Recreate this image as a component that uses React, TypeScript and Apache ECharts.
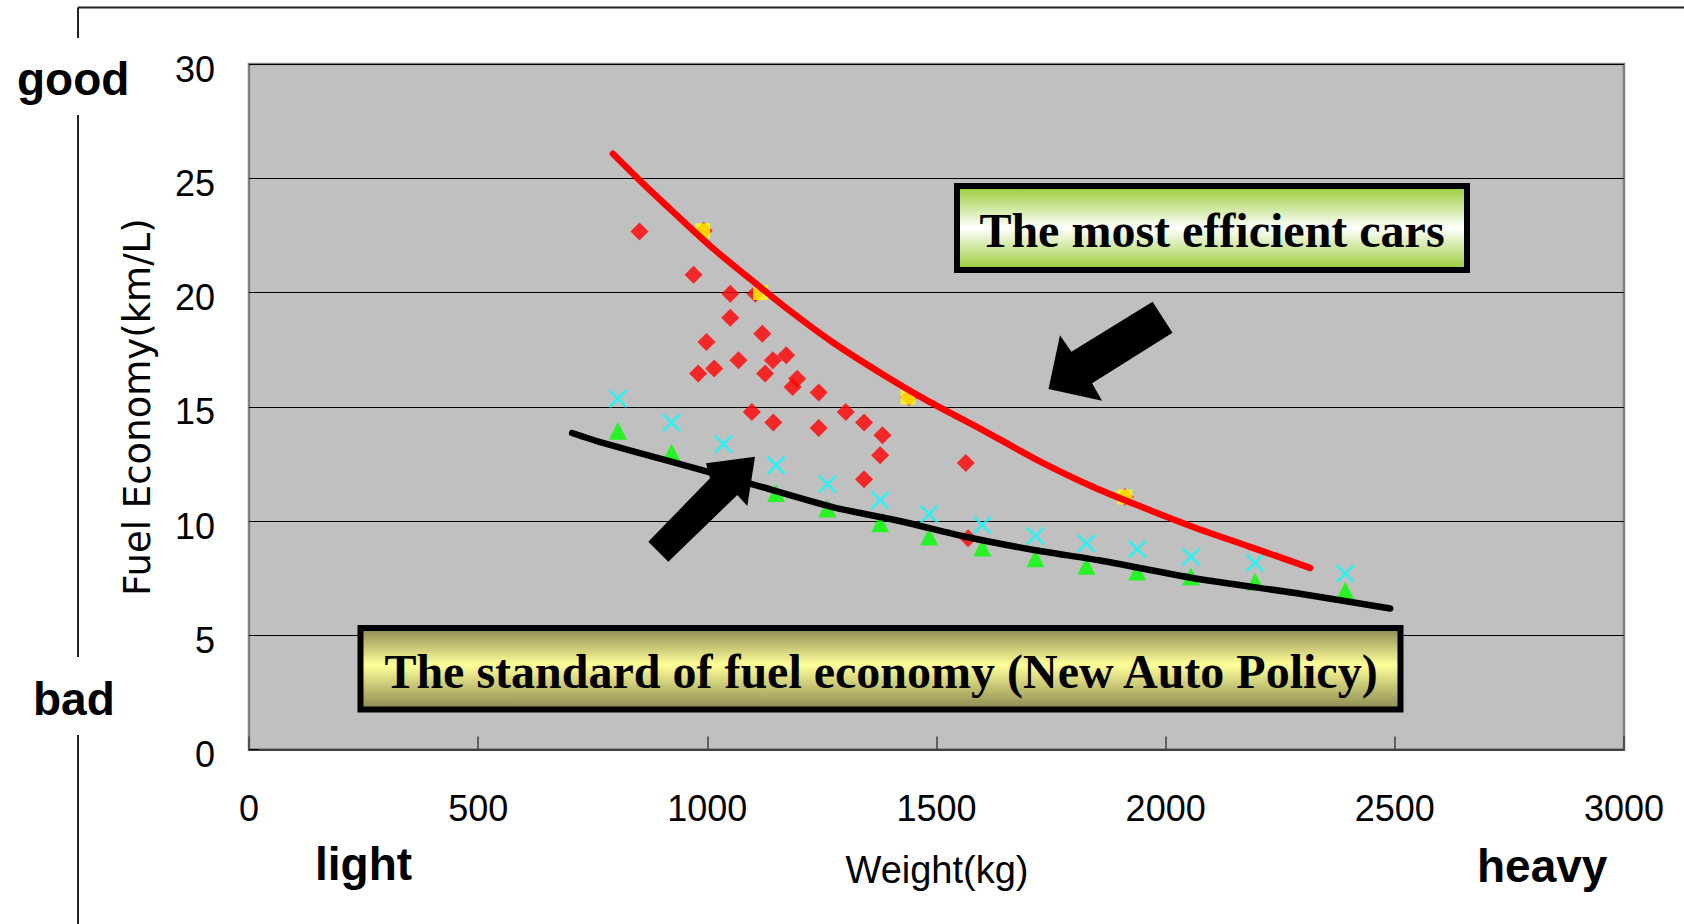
import React, { useEffect, useRef } from "react";
import * as echarts from "echarts";

// ---- data (weight kg, fuel economy km/L) ----
const redCurveW = [794, 853, 926, 1013, 1093, 1180, 1275, 1384, 1479, 1602, 1718, 1842, 1966, 2060, 2184, 2315];
const redCurveV = [26.07, 24.9, 23.52, 21.92, 20.6, 19.2, 17.8, 16.4, 15.28, 13.97, 12.69, 11.49, 10.47, 9.74, 8.87, 7.95];

const blackLineW = [705, 766, 911, 1093, 1275, 1420, 1566, 1716, 1857, 2075, 2293, 2490];
const blackLineV = [13.85, 13.45, 12.65, 11.64, 10.6, 10.0, 9.3, 8.72, 8.27, 7.45, 6.82, 6.17];

const carW = [852, 992, 970, 1050, 1105, 1050, 1120, 998, 1068, 1143, 1172, 1015, 980, 1126, 1196, 1186, 1243, 1097, 1144, 1243, 1302, 1342, 1382, 1377, 1342, 1564, 1569, 1440, 1911];
const carV = [22.67, 22.7, 20.78, 19.95, 19.95, 18.9, 18.2, 17.83, 17.03, 17.03, 17.25, 16.67, 16.45, 16.45, 16.23, 15.86, 15.62, 14.77, 14.31, 14.07, 14.77, 14.31, 13.75, 12.88, 11.83, 12.54, 9.24, 15.43, 11.05];

const bestW = [990, 1116, 1438, 1911];
const bestV = [22.7, 20.0, 15.43, 11.05];

const classW = [805, 922, 1035, 1150, 1262, 1377, 1484, 1600, 1716, 1827, 1938, 2055, 2195, 2392];
const phase2V = [15.36, 14.31, 13.36, 12.44, 11.61, 10.91, 10.3, 9.82, 9.35, 9.02, 8.77, 8.43, 8.17, 7.7];
const phase1V = [13.95, 13.0, 12.05, 11.23, 10.55, 9.9, 9.32, 8.84, 8.37, 8.04, 7.79, 7.57, 7.35, 6.96];

const xTicks = { min: 0, max: 3000, interval: 500 };
const yTicks = { min: 0, max: 30, interval: 5 };

const pairs = (xs: number[], ys: number[]) => xs.map((x, i) => [x, ys[i]]);

export default function App() {
  const ref = useRef<HTMLDivElement>(null);
  useEffect(() => {
    if (!ref.current) return;
    const chart = echarts.init(ref.current, null, { renderer: "svg" });
    const sans = "Liberation Sans, Arial, sans-serif";
    const serif = "Liberation Serif, Times New Roman, serif";
    const boldLabel = (text: string, x: number, y: number) => ({
      type: "text",
      x,
      y,
      z: 100,
      style: { text, fill: "#000", font: `bold 46px ${sans}`, textAlign: "left", textVerticalAlign: "middle" },
    });
    const option: any = {
      animation: false,
      backgroundColor: "#ffffff",
      grid: {
        left: 249,
        top: 64,
        width: 1375,
        height: 685.5,
        show: true,
        backgroundColor: "#c0c0c0",
        borderColor: "#808080",
        borderWidth: 2.5,
      },
      xAxis: {
        type: "value",
        min: xTicks.min,
        max: xTicks.max,
        interval: xTicks.interval,
        axisLine: { show: true, lineStyle: { color: "#404040", width: 2 } },
        axisTick: { show: true, inside: true, length: 13, lineStyle: { color: "#404040", width: 1.5 } },
        splitLine: { show: false },
        axisLabel: { color: "#000", fontSize: 36, fontFamily: sans, margin: 41, formatter: (v: number) => String(v) },
      },
      yAxis: {
        type: "value",
        min: yTicks.min,
        max: yTicks.max,
        interval: yTicks.interval,
        axisLine: { show: false },
        axisTick: { show: true, inside: true, length: 10, lineStyle: { color: "#000" } },
        splitLine: { show: true, lineStyle: { color: "#000", width: 1.2 } },
        axisLabel: { color: "#000", fontSize: 36, fontFamily: sans, margin: 34, verticalAlign: "top", lineHeight: 10 },
      },
      series: [
        {
          name: "cars",
          type: "scatter",
          symbol: "diamond",
          symbolSize: 18,
          itemStyle: { color: "#ff0000" },
          data: pairs(carW, carV),
        },
        {
          name: "best",
          type: "scatter",
          symbol: "rect",
          symbolSize: 15,
          itemStyle: { color: "#ffff00" },
          data: pairs(bestW, bestV),
        },
        {
          name: "phase1",
          type: "scatter",
          symbol: "triangle",
          symbolSize: 18,
          itemStyle: { color: "#00ff00" },
          data: pairs(classW, phase1V),
        },
        {
          name: "phase2",
          type: "scatter",
          symbol: "path://M0,0L10,10M10,0L0,10",
          symbolSize: 17,
          itemStyle: { color: "transparent", borderColor: "#00ffff", borderWidth: 2.5 },
          data: pairs(classW, phase2V),
        },
        {
          name: "standard",
          type: "line",
          symbol: "none",
          smooth: 0.2,
          lineStyle: { color: "#000", width: 6.5, cap: "round", join: "round" },
          data: pairs(blackLineW, blackLineV),
        },
        {
          name: "efficient",
          type: "line",
          symbol: "none",
          smooth: 0.3,
          lineStyle: { color: "#ff0000", width: 6.5, cap: "round", join: "round" },
          data: pairs(redCurveW, redCurveV),
        },
      ],
      graphic: [
        { type: "line", z: 100, shape: { x1: 78, y1: 7.5, x2: 1684, y2: 7.5 }, style: { stroke: "#222", lineWidth: 2 } },
        { type: "line", z: 100, shape: { x1: 78, y1: 7.5, x2: 78, y2: 38 }, style: { stroke: "#222", lineWidth: 2 } },
        { type: "line", z: 100, shape: { x1: 78, y1: 115, x2: 78, y2: 657 }, style: { stroke: "#222", lineWidth: 2 } },
        { type: "line", z: 100, shape: { x1: 78, y1: 735, x2: 78, y2: 924 }, style: { stroke: "#222", lineWidth: 2 } },
        boldLabel("good", 17, 79),
        boldLabel("bad", 33, 699),
        boldLabel("light", 315, 864),
        boldLabel("heavy", 1477, 866),
        {
          type: "text",
          x: 937,
          y: 870,
          z: 100,
          style: { text: "Weight(kg)", fill: "#000", font: `38px ${sans}`, textAlign: "center", textVerticalAlign: "middle" },
        },
        {
          type: "text",
          x: 137,
          y: 407,
          rotation: Math.PI / 2,
          z: 100,
          style: { text: "Fuel Economy(km/L)", fill: "#000", font: "37px DejaVu Sans, sans-serif", textAlign: "center", textVerticalAlign: "middle" },
        },
        {
          type: "rect",
          z: 100,
          shape: { x: 957, y: 186, width: 510, height: 84 },
          style: {
            fill: new echarts.graphic.LinearGradient(0, 0, 0, 1, [
              { offset: 0, color: "#99cc33" },
              { offset: 0.5, color: "#ffffff" },
              { offset: 1, color: "#99cc33" },
            ]),
            stroke: "#000",
            lineWidth: 6,
          },
        },
        {
          type: "text",
          x: 1212,
          y: 230,
          z: 101,
          style: { text: "The most efficient cars", fill: "#000", font: `bold 48px ${serif}`, textAlign: "center", textVerticalAlign: "middle" },
        },
        {
          type: "rect",
          z: 100,
          shape: { x: 360.5, y: 628, width: 1040, height: 81.5 },
          style: {
            fill: new echarts.graphic.LinearGradient(0, 0, 0, 1, [
              { offset: 0, color: "#8a8850" },
              { offset: 0.45, color: "#ffff99" },
              { offset: 1, color: "#8a8850" },
            ]),
            stroke: "#000",
            lineWidth: 6,
          },
        },
        {
          type: "text",
          x: 881,
          y: 671,
          z: 101,
          style: { text: "The standard of fuel economy (New Auto Policy)", fill: "#000", font: `bold 48px ${serif}`, textAlign: "center", textVerticalAlign: "middle" },
        },
        {
          type: "polygon",
          z: 100,
          shape: {
            points: [
              [648.3, 541.7],
              [710, 478.3],
              [706, 463.3],
              [755, 456.7],
              [747.3, 506],
              [737.3, 495],
              [668.3, 561.7],
            ],
          },
          style: { fill: "#000" },
        },
        {
          type: "polygon",
          z: 100,
          shape: {
            points: [
              [1048.5, 389],
              [1060, 335.3],
              [1071.4, 351.7],
              [1152.6, 301.7],
              [1172.5, 332.7],
              [1092.1, 383.3],
              [1102.1, 400.7],
            ],
          },
          style: { fill: "#000" },
        },
      ],
    };
    chart.setOption(option);
    return () => chart.dispose();
  }, []);
  return <div ref={ref} style={{ position: "fixed", left: 0, top: 0, width: 1684, height: 924, background: "#fff" }} />;
}
